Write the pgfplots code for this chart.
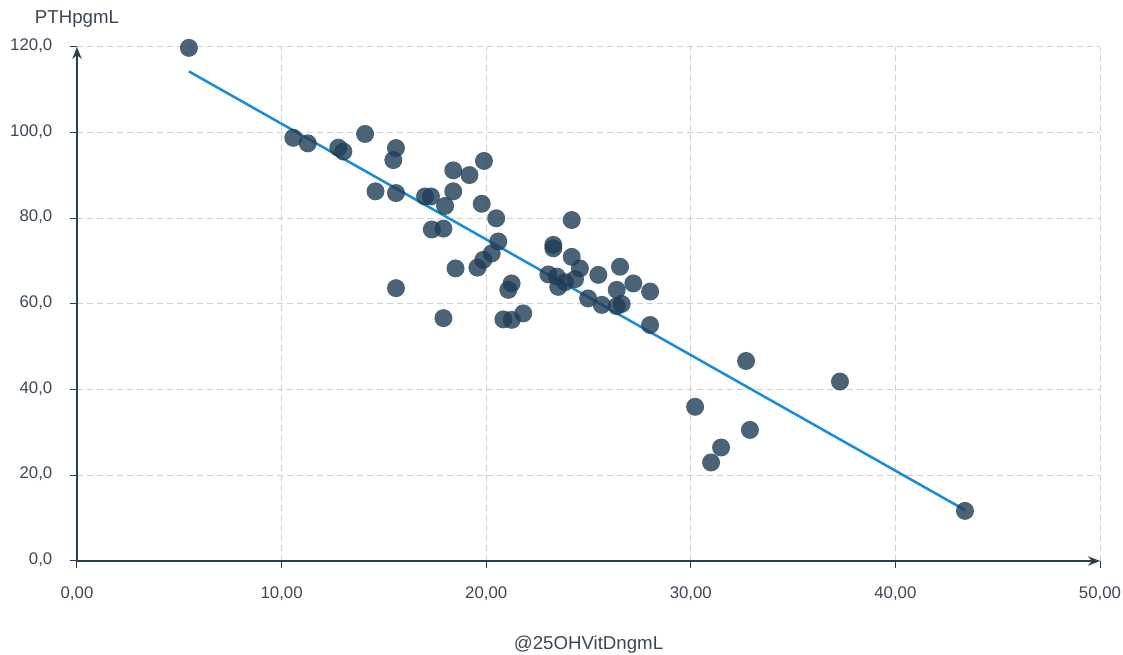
\documentclass[border=0pt]{standalone}
\usepackage{fontspec}
\setmainfont{Liberation Sans}
\usepackage{pgfplots}
\pgfplotsset{compat=1.18}
\usetikzlibrary{arrows.meta}
\definecolor{axisnavy}{HTML}{2B3E50}
\definecolor{ticktext}{HTML}{3B4754}
\definecolor{gridgray}{HTML}{CFCFCF}
\definecolor{fitblue}{HTML}{1B8DD6}
\definecolor{dotfill}{RGB}{30,60,85}
\begin{document}
\begin{tikzpicture}
\begin{axis}[
  scale only axis,
  width=767.25pt, height=385.5pt,
  xmin=0, xmax=50, ymin=0, ymax=120,
  axis x line=bottom, axis y line=left,
  axis line style={axisnavy, line width=1.1pt, -{Stealth[length=9pt,width=7pt]}},
  xtick={0,10,...,50}, ytick={0,20,...,120},
  grid=major,
  major grid style={gridgray, dash pattern=on 4.5pt off 3pt, line width=0.75pt},
  tick align=outside,
  major tick length=5pt,
  tick style={axisnavy, line width=0.75pt},
  ticklabel style={font=\fontsize{12.6}{15}\selectfont, text=ticktext},
  xticklabel style={yshift=-10.5pt, /pgf/number format/.cd, assume math mode=true, fixed, fixed zerofill, precision=2, use comma, 1000 sep={}},
  yticklabel style={xshift=-10pt, yshift=1pt, /pgf/number format/.cd, assume math mode=true, fixed, fixed zerofill, precision=1, use comma, 1000 sep={}},
  clip=false,
]
\addplot[only marks, mark=*, mark size=6.75pt, draw=none, fill=dotfill, fill opacity=0.8,
  mark options={draw=none, draw opacity=0, fill=dotfill, fill opacity=0.8}] coordinates {
(5.47,119.8) (10.57,98.8) (11.28,97.5) (12.77,96.5) (13.02,95.6) (14.08,99.7)
(15.59,96.4) (15.46,93.6) (14.59,86.3) (15.59,85.9) (15.59,63.7) (17.01,85.1)
(17.30,85.1) (17.99,82.9) (17.34,77.4) (17.91,77.6) (17.91,56.7) (18.39,91.2)
(18.39,86.3) (18.50,68.3) (19.18,90.1) (19.89,93.4) (19.78,83.4) (20.49,80.0)
(20.59,74.6) (20.27,71.8) (19.86,70.3) (19.57,68.5) (20.84,56.4) (21.25,56.3)
(21.08,63.3) (21.24,64.8) (21.81,57.8) (24.18,79.6) (23.28,73.8) (23.28,73.0)
(23.04,66.9) (23.45,66.4) (23.52,64.0) (23.85,65.1) (24.18,71.0) (24.58,68.3)
(24.34,65.8) (24.98,61.3) (25.48,66.8) (25.65,59.8) (26.38,59.5) (26.62,60.0)
(26.38,63.3) (26.54,68.7) (27.19,64.8) (28.01,62.9) (28.01,55.1) (30.21,36.0)
(30.99,23.0) (31.48,26.5) (32.70,46.7) (32.89,30.6) (37.29,41.9) (43.40,11.7)
};
\addplot[fitblue, line width=1.9pt] coordinates {(5.47,114.3) (43.40,11.9)};
\node[font=\fontsize{14}{17}\selectfont, text=ticktext] at (rel axis cs:0.5,0) [yshift=-63pt] {@25OHVitDngmL};
\node[font=\fontsize{14}{17}\selectfont, text=ticktext] at (rel axis cs:0,1) [yshift=21pt] {PTHpgmL};
\coordinate (ll) at (rel axis cs:0,0);
\coordinate (ur) at (rel axis cs:1,1);
\end{axis}
\pgfresetboundingbox
\path ([xshift=-57.75pt,yshift=-70.5pt]ll) rectangle ([xshift=17.25pt,yshift=35.25pt]ur);
\end{tikzpicture}
\end{document}
